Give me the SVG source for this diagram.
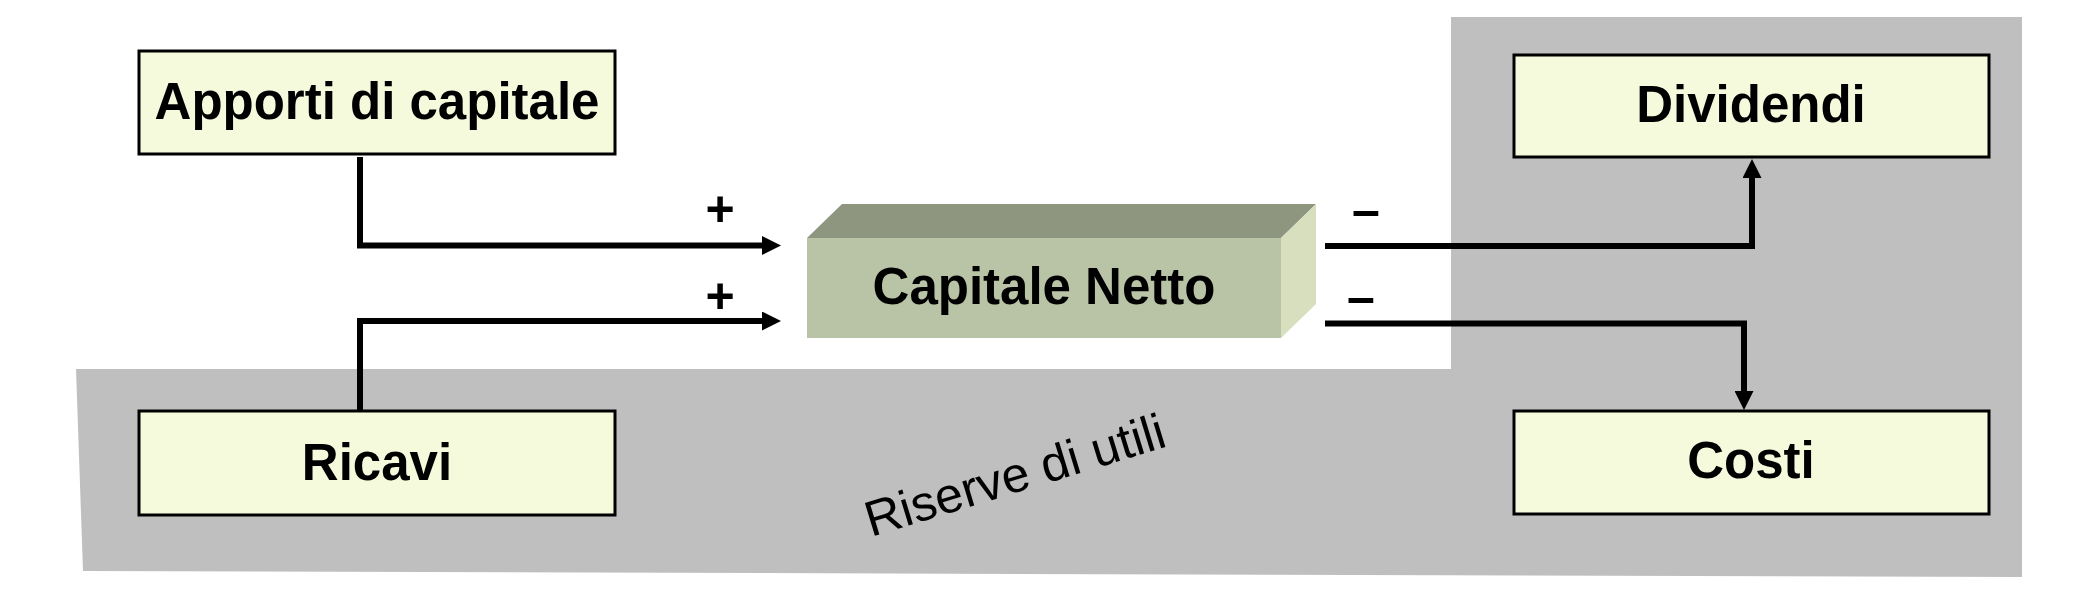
<svg xmlns="http://www.w3.org/2000/svg" width="2098" height="596" viewBox="0 0 2098 596">
<style>
.box{fill:#F5FADC;stroke:#000;stroke-width:3}
.lbl{font-family:"Liberation Sans",Arial,sans-serif;font-weight:bold;font-size:51px;fill:#000;text-anchor:middle}
.sign{font-family:"Liberation Sans",Arial,sans-serif;font-weight:bold;font-size:50px;fill:#000;text-anchor:middle}
.conn{fill:none;stroke:#000;stroke-width:6;stroke-linejoin:miter}
</style>
<defs>
<marker id="arr" markerUnits="userSpaceOnUse" markerWidth="19" markerHeight="19" refX="8" refY="9.5" orient="auto">
<path d="M0,0 L19,9.5 L0,19 z" fill="#000"/>
</marker>
</defs>
<rect width="2098" height="596" fill="#fff"/>
<g id="riserve">
<polygon points="76,369 1451,369 1451,17 2022,17 2022,577 83,571" fill="#BFBFBF"/>
<text x="871" y="537" transform="rotate(-17 871 537)" font-family="Liberation Sans,Arial,sans-serif" font-size="50" fill="#000">Riserve di utili</text>
</g>
<g id="apporti">
<rect class="box" x="139" y="51" width="476" height="103"/>
<text class="lbl" x="377" y="119">Apporti di capitale</text>
</g>
<g id="ricavi">
<rect class="box" x="139" y="411" width="476" height="104"/>
<text class="lbl" x="377" y="480">Ricavi</text>
</g>
<g id="dividendi">
<rect class="box" x="1514" y="55" width="475" height="102"/>
<text class="lbl" x="1751" y="122">Dividendi</text>
</g>
<g id="costi">
<rect class="box" x="1514" y="411" width="475" height="103"/>
<text class="lbl" x="1751" y="478">Costi</text>
</g>
<g id="capitale-netto">
<polygon points="807,238 842,204 1316,204 1281,238" fill="#8F9680"/>
<polygon points="1281,238 1316,204 1316,304 1281,338" fill="#D7DFBF"/>
<rect x="807" y="238" width="474" height="100" fill="#B9C3A6"/>
<text class="lbl" x="1044" y="304">Capitale Netto</text>
</g>
<g id="connectors">
<polyline class="conn" points="360,157 360,245.5 770,245.5" marker-end="url(#arr)"/>
<polyline class="conn" points="360,410 360,321 770,321" marker-end="url(#arr)"/>
<polyline class="conn" points="1325,246 1752,246 1752,170" marker-end="url(#arr)"/>
<polyline class="conn" points="1325,323.5 1744,323.5 1744,399" marker-end="url(#arr)"/>
<text class="sign" x="720" y="226">+</text>
<text class="sign" x="720" y="313">+</text>
<text class="sign" x="1366" y="227">–</text>
<text class="sign" x="1361" y="314">–</text>
</g>
</svg>
